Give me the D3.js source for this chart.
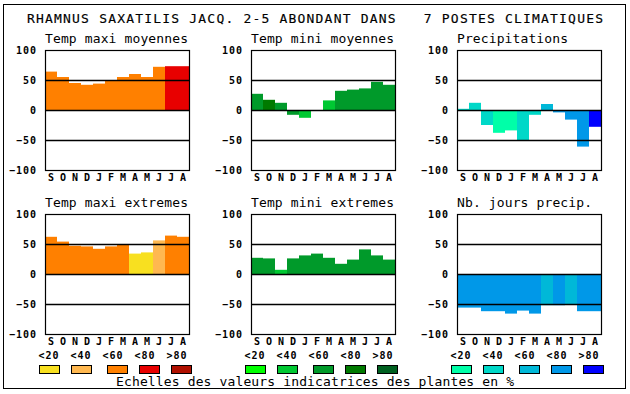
<!DOCTYPE html>
<html lang="fr">
<head>
<meta charset="UTF-8">
<title>Rhamnus saxatilis</title>
<script src="https://d3js.org/d3.v7.min.js"></script>
<style>
  body { margin: 0; padding: 0; background: #fff; overflow: hidden; }
  svg { display: block; }
  text { font-family: "DejaVu Sans Mono", monospace; fill: #000; white-space: pre; }
</style>
</head>
<body>
<svg id="chart" width="630" height="394"></svg>
<script>
// Month labels (Sept -> Aug)
const months = ["S", "O", "N", "D", "J", "F", "M", "A", "M", "J", "J", "A"];
const yTicks = [100, 50, 0, -50, -100];
const gridTicks = [50, 0, -50];
const classLabels = ["<20", "<40", "<60", "<80", ">80"];

// Values per panel, and class index (0 = <20 ... 4 = >80) for bar colour
const tmaxMoy = [64, 55, 45, 42, 44, 49, 55, 60, 55, 72, 73, 73];
const tmaxMoyCls = [2, 2, 2, 2, 2, 2, 2, 2, 2, 2, 3, 3];
const tminMoy = [27, 17, 12, -8, -13, 0, 16, 32, 34, 36, 47, 42];
const tminMoyCls = [2, 3, 2, 2, 1, 2, 1, 2, 2, 2, 2, 2];
const precip = [2, 12, -25, -38, -34, -50, -8, 10, -4, -16, -61, -28];
const precipCls = [1, 1, 1, 0, 0, 1, 1, 2, 3, 3, 3, 4];
const tmaxExt = [62, 54, 47, 46, 42, 46, 49, 34, 36, 56, 64, 62];
const tmaxExtCls = [2, 2, 2, 2, 2, 2, 2, 0, 0, 1, 2, 2];
const tminExt = [27, 26, 7, 26, 31, 34, 27, 17, 24, 41, 31, 24];
const tminExtCls = [2, 2, 1, 2, 2, 2, 2, 2, 2, 2, 2, 2];
const nbJours = [-56, -56, -62, -62, -66, -61, -66, -52, -52, -50, -62, -62];
const nbJoursCls = [3, 3, 3, 3, 3, 3, 3, 2, 3, 2, 3, 3];

// Colour scales per variable
const warmColors = ["#f8e020", "#ffb850", "#ff8000", "#e80000", "#b01000"];
const greenColors = ["#00ff00", "#00c832", "#009a2a", "#007a00", "#006020"];
const blueColors = ["#00ffa8", "#00d8c8", "#00b8d8", "#0098e8", "#0000ff"];

const panels = [
  { title: "Temp maxi moyennes", values: tmaxMoy, cls: tmaxMoyCls, colors: warmColors, col: 0, row: 0 },
  { title: "Temp mini moyennes", values: tminMoy, cls: tminMoyCls, colors: greenColors, col: 1, row: 0 },
  { title: "Precipitations", values: precip, cls: precipCls, colors: blueColors, col: 2, row: 0 },
  { title: "Temp maxi extremes", values: tmaxExt, cls: tmaxExtCls, colors: warmColors, col: 0, row: 1 },
  { title: "Temp mini extremes", values: tminExt, cls: tminExtCls, colors: greenColors, col: 1, row: 1 },
  { title: "Nb. jours precip.", values: nbJours, cls: nbJoursCls, colors: blueColors, col: 2, row: 1 }
];

const svg = d3.select("#chart");
const plotW = 144, plotH = 120;
const colX = [45, 251, 457];
const rowY = [50, 214];

// outer frame
svg.append("rect")
  .attr("x", 3.5).attr("y", 4.5).attr("width", 622).attr("height", 384)
  .attr("fill", "none").attr("stroke", "#000").attr("stroke-width", 1);

svg.append("text")
  .attr("x", 27).attr("y", 23)
  .attr("font-size", 13)
  .attr("stroke", "#000").attr("stroke-width", 0.15)
  .attr("xml:space", "preserve")
  .attr("textLength", 576).attr("lengthAdjust", "spacing")
  .text("RHAMNUS SAXATILIS JACQ. 2-5 ABONDANT DANS   7 POSTES CLIMATIQUES");

const x = d3.scaleBand().domain(d3.range(months.length)).range([0, plotW]).padding(0);
const y = d3.scaleLinear().domain([-100, 100]).range([plotH, 0]);

panels.forEach(p => {
  const g = svg.append("g")
    .attr("transform", `translate(${colX[p.col]},${rowY[p.row]})`);

  g.append("text")
    .attr("x", 0).attr("y", -7)
    .attr("font-size", 13)
    .attr("textLength", p.title.length * 8 - 1).attr("lengthAdjust", "spacing")
    .text(p.title);

  // bars
  g.append("g").selectAll("rect")
    .data(p.values)
    .enter().append("rect")
    .attr("x", (d, i) => x(i))
    .attr("width", x.bandwidth())
    .attr("y", d => y(Math.max(0, d)))
    .attr("height", d => Math.abs(y(d) - y(0)))
    .attr("fill", (d, i) => p.colors[p.cls[i]]);

  // horizontal reference lines
  g.append("g").selectAll("line")
    .data(gridTicks)
    .enter().append("line")
    .attr("x1", 0).attr("x2", plotW)
    .attr("y1", d => Math.round(y(d)) + 0.5).attr("y2", d => Math.round(y(d)) + 0.5)
    .attr("stroke", "#000").attr("stroke-width", 1.3);

  g.append("rect")
    .attr("x", 0.5).attr("y", 0.5).attr("width", plotW).attr("height", plotH)
    .attr("fill", "none").attr("stroke", "#000").attr("stroke-width", 1.2);

  // y axis labels
  const yAxis = d3.axisLeft(y).tickValues(yTicks).tickSize(0).tickPadding(8);
  const ya = g.append("g").call(yAxis);
  ya.select(".domain").remove();
  ya.selectAll("text")
    .attr("font-family", "DejaVu Sans Mono")
    .attr("font-size", 10).attr("font-weight", "bold")
    .attr("letter-spacing", 1)
    .attr("fill", "#000");

  // month labels
  const xAxis = d3.axisBottom(x).tickFormat(i => months[i]).tickSize(0);
  const xa = g.append("g").attr("transform", `translate(0,${plotH})`).call(xAxis);
  xa.select(".domain").remove();
  xa.selectAll("text")
    .attr("y", 10.5).attr("dy", null)
    .attr("font-family", "DejaVu Sans Mono")
    .attr("font-size", 10).attr("font-weight", "bold")
    .attr("fill", "#000");
});

// legends below the bottom row
const swatchOffsets = [-6, 26, 62, 94, 126];
[warmColors, greenColors, blueColors].forEach((colors, c) => {
  const g = svg.append("g").attr("transform", `translate(${colX[c]},0)`);
  g.selectAll("text.cls")
    .data(classLabels)
    .enter().append("text")
    .attr("class", "cls")
    .attr("x", (d, i) => 4 + 32 * i)
    .attr("y", 358.5)
    .attr("text-anchor", "middle")
    .attr("font-size", 10).attr("font-weight", "bold")
    .attr("letter-spacing", 1)
    .text(d => d);
  g.selectAll("rect")
    .data(colors)
    .enter().append("rect")
    .attr("x", (d, i) => swatchOffsets[i] + 0.5)
    .attr("y", 365.5)
    .attr("width", 20).attr("height", 8)
    .attr("fill", d => d)
    .attr("stroke", "#000").attr("stroke-width", 1);
});

svg.append("text")
  .attr("x", 116).attr("y", 386)
  .attr("font-size", 13)
  .attr("textLength", 398).attr("lengthAdjust", "spacing")
  .text("Echelles des valeurs indicatrices des plantes en %");
</script>
</body>
</html>
